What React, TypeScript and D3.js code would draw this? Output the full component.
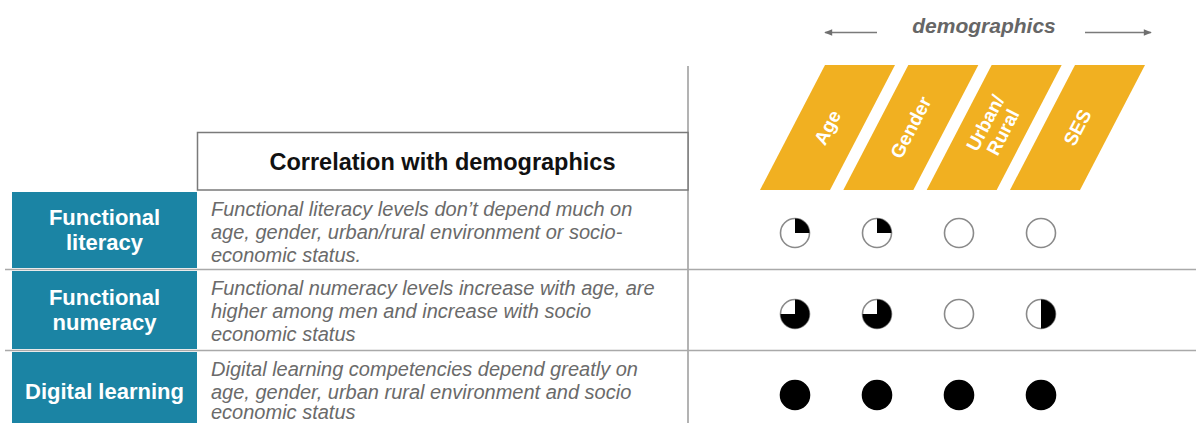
import React from "react";
import * as d3 from "d3";

const demographics = ["Age", "Gender", "Urban/Rural", "SES"];
const demographicLabels = [["Age"], ["Gender"], ["Urban/", "Rural"], ["SES"]];
const skills = ["Functional literacy", "Functional numeracy", "Digital learning"];
const skillLabels = [["Functional", "literacy"], ["Functional", "numeracy"], ["Digital learning"]];
const descriptions = [
  ["Functional literacy levels don\u2019t depend much on", "age, gender, urban/rural environment or socio-", "economic status."],
  ["Functional numeracy levels increase with age, are", "higher among men and increase with socio", "economic status"],
  ["Digital learning competencies depend greatly on", "age, gender, urban rural environment and socio", "economic status"],
];
// Harvey-ball fill share per skill (rows) and demographic (columns)
const literacyValues = [0.25, 0.25, 0, 0];
const numeracyValues = [0.75, 0.75, 0, 0.5];
const digitalValues = [1, 1, 1, 1];
const headerTitle = "Correlation with demographics";
const topTitle = "demographics";

const W = 1196;
const H = 423;
const TEAL = "#1b84a4";
const YELLOW = "#f1b021";
const FONT = "'Liberation Sans', Arial, sans-serif";

export default function App() {
  const values = [literacyValues, numeracyValues, digitalValues];

  // parallelogram header positions (bottom-left x)
  const xPara = d3.scalePoint<string>().domain(demographics).range([760, 1010]);
  const paraW = 70;
  const paraTop = 65;
  const paraBottom = 190;
  const slant = 65;

  // circle grid
  const xCirc = d3.scalePoint<string>().domain(demographics).range([795, 1041]);
  const yRow = d3.scalePoint<string>().domain(skills).range([233, 395]);
  const r = 14.5;
  const arc = d3.arc<any>().innerRadius(0).outerRadius(r);

  // row bands
  const rowTop = [192, 271, 352];
  const rowBottom = [268, 349, 423];
  const sepY = [269.5, 350.5];

  const rotate = (-Math.atan2(paraBottom - paraTop, slant) * 180) / Math.PI;

  return (
    <svg
      width={W}
      height={H}
      style={{ position: "absolute", left: 0, top: 0, background: "#fff" }}
      fontFamily={FONT}
    >
      <defs>
        <marker id="ah" viewBox="0 0 10 10" refX="9" refY="5" markerWidth="9" markerHeight="8" orient="auto-start-reverse" markerUnits="userSpaceOnUse">
          <path d="M0,1 L10,5 L0,9 Z" fill="#6f6f6f" />
        </marker>
      </defs>
      <rect width={W} height={H} fill="#fff" />

      {/* top title with arrows */}
      <line x1={877} y1={32.5} x2={825} y2={32.5} stroke="#7a7a7a" strokeWidth={1.5} markerEnd="url(#ah)" />
      <line x1={1085} y1={32.5} x2={1151} y2={32.5} stroke="#7a7a7a" strokeWidth={1.5} markerEnd="url(#ah)" />
      <text x={984} y={33} textAnchor="middle" fontSize={21} fontWeight="bold" fontStyle="italic" fill="#666">
        {topTitle}
      </text>

      {/* vertical divider */}
      <line x1={688} y1={66} x2={688} y2={H} stroke="#9a9a9a" strokeWidth={1.5} />

      {/* parallelograms */}
      {demographics.map((d, i) => {
        const x0 = xPara(d)!;
        const pts = [
          [x0, paraBottom],
          [x0 + paraW, paraBottom],
          [x0 + paraW + slant, paraTop],
          [x0 + slant, paraTop],
        ];
        const cx = x0 + paraW / 2 + slant / 2;
        const cy = (paraTop + paraBottom) / 2;
        const lines = demographicLabels[i];
        const lh = 20;
        return (
          <g key={d}>
            <polygon points={pts.map((p) => p.join(",")).join(" ")} fill={YELLOW} />
            <g transform={`translate(${cx},${cy}) rotate(${rotate})`}>
              {lines.map((t, j) => (
                <text
                  key={t}
                  x={0}
                  y={(j - (lines.length - 1) / 2) * lh}
                  textAnchor="middle"
                  dominantBaseline="central"
                  fontSize={19}
                  fontWeight="bold"
                  fill="#fff"
                >
                  {t}
                </text>
              ))}
            </g>
          </g>
        );
      })}

      {/* header box */}
      <rect x={197.5} y={132.5} width={490.5} height={57.5} fill="#fff" stroke="#7a7a7a" strokeWidth={1.5} />
      <text x={442.5} y={162} textAnchor="middle" dominantBaseline="central" fontSize={23.5} fontWeight="bold" fill="#111">
        {headerTitle}
      </text>

      {/* separators */}
      {sepY.map((y) => (
        <line key={y} x1={5} x2={W} y1={y} y2={y} stroke="#a9a9a9" strokeWidth={1.5} />
      ))}

      {/* rows */}
      {skills.map((s, i) => {
        const top = rowTop[i];
        const bottom = rowBottom[i];
        const labels = skillLabels[i];
        const cy = i === 2 ? 391 : (top + bottom) / 2;
        const lh = 25;
        return (
          <g key={s}>
            <rect x={12} y={top} width={185} height={bottom - top} fill={TEAL} />
            {labels.map((t, j) => (
              <text
                key={t}
                x={104.5}
                y={cy + (j - (labels.length - 1) / 2) * lh}
                textAnchor="middle"
                dominantBaseline="central"
                fontSize={22}
                fontWeight="bold"
                fill="#fff"
              >
                {t}
              </text>
            ))}
            {descriptions[i].map((t, j) => (
              <text
                key={j}
                x={211}
                y={Math.min(top + 24 + j * 23, 419)}
                fontSize={20}
                fontStyle="italic"
                fill="#6a6a6a"
              >
                {t}
              </text>
            ))}
            {values[i].map((v, k) => {
              const cx = xCirc(demographics[k])!;
              const cyc = yRow(s)!;
              return (
                <g key={k} transform={`translate(${cx},${cyc})`}>
                  <circle r={r} fill={v >= 1 ? "#000" : "#fff"} stroke={v >= 1 ? "#000" : "#8a8a8a"} strokeWidth={1.6} />
                  {v > 0 && v < 1 && (
                    <path d={arc({ startAngle: 0, endAngle: v * 2 * Math.PI }) || ""} fill="#000" />
                  )}
                </g>
              );
            })}
          </g>
        );
      })}
    </svg>
  );
}
